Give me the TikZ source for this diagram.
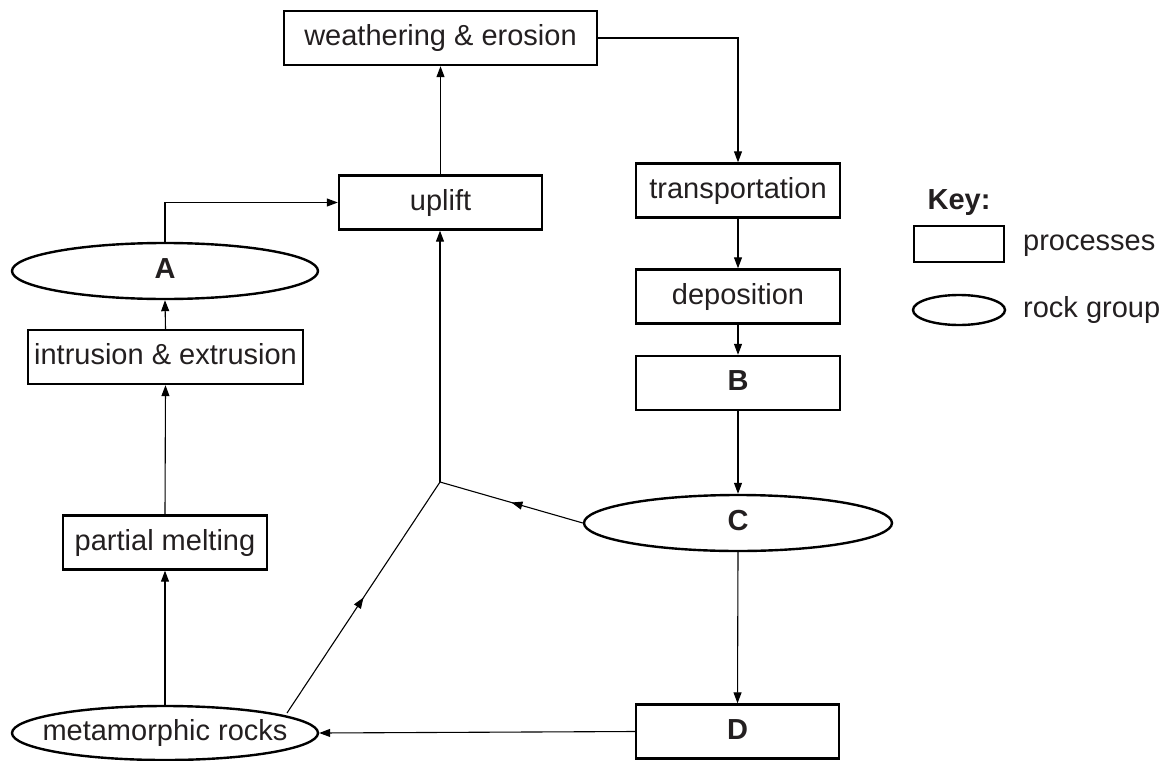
\documentclass[tikz,border=0pt]{standalone}
\usepackage{fontspec}
\setmainfont{Liberation Sans}
\usetikzlibrary{arrows.meta,decorations.markings,shapes.geometric}
\definecolor{ink}{RGB}{35,31,32}
\begin{document}
\begin{tikzpicture}[x=1pt,y=-1pt,
  txt/.style={text=ink, text height=20pt, text depth=4.5pt, inner sep=0pt, font=\fontsize{29}{34}\selectfont},
  boldtxt/.style={txt, font=\fontsize{29}{34}\selectfont\bfseries},
  proc/.style={txt, draw=black, line width=2.4pt, rectangle, minimum height=54pt},
  rock/.style={draw=black, line width=2.4pt, ellipse, minimum height=56pt, minimum width=306pt, inner sep=0pt},
  conn/.style={draw=black, line width=1.1pt, -{Triangle[length=11pt,width=8pt]}},
  plain/.style={draw=black, line width=1.1pt},
  midarrow/.style={plain, postaction={decorate}, decoration={markings, mark=at position 0.5 with {\arrow{Triangle[length=11pt,width=8pt]}}}}
]
\useasboundingbox (0,0) rectangle (1169,760);

% process boxes
\node[proc, minimum width=313pt] (weath) at (440.5,38) {weathering \& erosion};
\node[proc, minimum width=203pt] (uplift) at (440.5,202.5) {uplift};
\node[proc, minimum width=204pt] (trans) at (738,190.5) {transportation};
\node[proc, minimum width=204pt] (depo) at (738,296.5) {deposition};
\node[proc, boldtxt, minimum width=204pt] (B) at (738,383) {B};
\node[proc, boldtxt, minimum width=203pt] (D) at (737.5,731.5) {D};
\node[proc, minimum width=275pt] (intr) at (165.5,357) {intrusion \& extrusion};
\node[proc, minimum width=204pt] (melt) at (165,542.5) {partial melting};

% rock groups
\node[rock, label={[boldtxt]center:A}] (A) at (165,271) {};
\node[rock, minimum width=308pt, label={[boldtxt]center:C}] (C) at (738,523) {};
\node[rock, minimum height=54pt, label={[txt]center:metamorphic rocks}] (meta) at (165,733) {};

% junction
\coordinate (junc) at (440,482);
\coordinate (mstart) at (287,713);

% connectors
\draw[conn] (uplift.north) -- (weath.south);
\draw[conn] (weath.east) -| (trans.north);
\draw[conn] (trans.south) -- (depo.north);
\draw[conn] (depo.south) -- (B.north);
\draw[conn] (B.south) -- (C.north);
\draw[conn] (C.south) -- (D.north);
\draw[conn] (D.west) -- (meta.east);
\draw[conn] (meta.north) -- (melt.south);
\draw[conn] (melt.north) -- (intr.south);
\draw[conn] (intr.north) -- (A.south);
\draw[conn] (A.north) |- (uplift.west);
\draw[midarrow] (C.west) -- (junc);
\draw[midarrow] (mstart) -- (junc);
\draw[conn] (junc) -- (junc |- uplift.south);

% key
\node[boldtxt] (keyt) at (959,202) {Key:};
\node[draw=black, line width=2.4pt, rectangle, minimum width=90pt, minimum height=36pt, inner sep=0pt] (kbox) at (959,244) {};
\node[txt, anchor=west] (kproc) at (1023,243) {processes};
\node[draw=black, line width=2.4pt, ellipse, minimum width=92pt, minimum height=30pt, inner sep=0pt] (kell) at (959,310) {};
\node[txt, anchor=west] (krock) at (1023,310) {rock group};
\end{tikzpicture}
\end{document}
